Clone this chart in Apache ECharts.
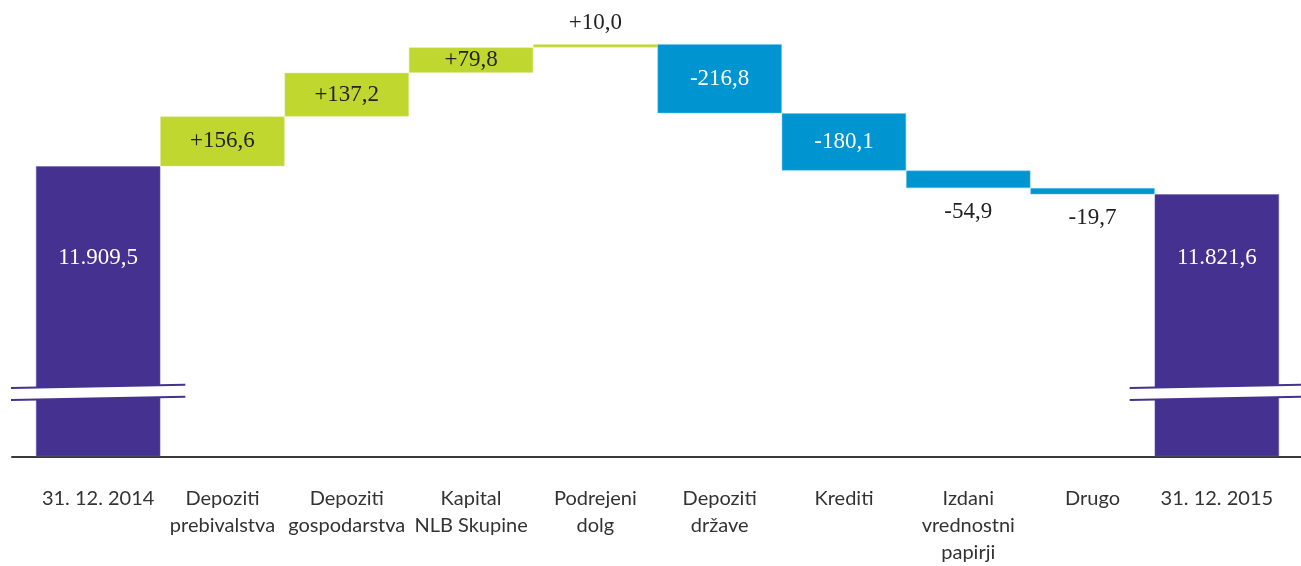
<!DOCTYPE html>
<html>
<head>
<meta charset="utf-8">
<script src="https://cdn.jsdelivr.net/npm/echarts@6/dist/echarts.min.js"></script>
<style>
html, body { margin: 0; padding: 0; background: #fff; }
#chart { width: 1301px; height: 566px; }
</style>
</head>
<body>
<div id="chart"></div>
<script>
// kategorije (x os)
const categories = ['31. 12. 2014', 'Depoziti\nprebivalstva', 'Depoziti\ngospodarstva', 'Kapital\nNLB Skupine',
	'Podrejeni\ndolg', 'Depoziti\ndržave', 'Krediti', 'Izdani\nvrednostni\npapirji', 'Drugo', '31. 12. 2015']
// začetno in končno stanje
const startTotal = 11909.5
const endTotal = 11821.6
// spremembe med njima
const changes = [156.6, 137.2, 79.8, 10.0, -216.8, -180.1, -54.9, -19.7]
// prelom osi (vrednost kjer je narisan prelom)
const breakValue = 11200

const PURPLE = '#45318f', GREEN = '#c0d72f', BLUE = '#0094d0'

function fmt(v, sign){
	let s = Math.abs(v).toFixed(1).split('.')
	let int = s[0].replace(/\B(?=(\d{3})+(?!\d))/g, '.')
	let txt = int + ',' + s[1]
	if( sign ) txt = (v >= 0 ? '+' : '-') + txt
	return txt
}

// sestavi podatke za slap
let base = ['-'], totals = [], ups = ['-'], downs = ['-']
totals.push({ value: startTotal, label: { distance: 80 } })
let run = startTotal
for (let i = 0; i < changes.length; i++) {
	let c = changes[i]
	totals.push('-')
	if( c >= 0 ){
		base.push(run)
		let pos = c < 30 ? 'top' : 'inside'
		ups.push({ value: c, label: { position: pos, distance: 10 } })
		downs.push('-')
	}else{
		base.push(run + c)
		let small = Math.abs(c) < 100
		downs.push({ value: -c, label: small ? { position: 'bottom', distance: 12, color: '#222' } : { position: 'inside' } })
		ups.push('-')
	}
	run += c
}
base.push('-'); ups.push('-'); downs.push('-')
totals.push({ value: endTotal, label: { distance: 52 } })

const valFont = { fontFamily: 'Liberation Serif', fontSize: 23 }

let chart = echarts.init(document.getElementById('chart'))
let option = {
	animation: false,
	grid: [
		{ left: 36, right: 22, top: 42, bottom: 109 },
		{ left: 12, right: 0, top: 42, bottom: 109 }
	],
	xAxis: [
		{
			type: 'category',
			data: categories,
			gridIndex: 0,
			axisLine: { show: false },
			axisTick: { show: false },
			axisLabel: {
				interval: 0,
				margin: 29,
				color: '#333',
				fontFamily: 'Lato',
				fontSize: 20,
				lineHeight: 27,
				verticalAlign: 'top'
			}
		},
		{
			type: 'value',
			gridIndex: 1,
			min: 0, max: 1,
			axisLine: { show: true, lineStyle: { color: '#3a3a3a', width: 2 } },
			axisTick: { show: false },
			axisLabel: { show: false },
			splitLine: { show: false }
		}
	],
	yAxis: [
		{ type: 'value', gridIndex: 0, min: 11000, max: 12300, show: false, splitLine: { show: false } },
		{ type: 'value', gridIndex: 1, show: false, splitLine: { show: false } }
	],
	series: [
		{
			type: 'bar', stack: 'w', data: base,
			barCategoryGap: '0%',
			itemStyle: { color: 'transparent' },
			silent: true
		},
		{
			type: 'bar', stack: 'w', data: totals,
			itemStyle: { color: PURPLE, borderColor: '#6a5bb0', borderWidth: 0.5 },
			label: Object.assign({ show: true, position: 'insideTop', color: '#fff', formatter: p => fmt(p.value, false) }, valFont)
		},
		{
			type: 'bar', stack: 'w', data: ups,
			itemStyle: { color: GREEN, borderColor: '#dbe98a', borderWidth: 0.5 },
			label: Object.assign({ show: true, color: '#222', formatter: p => fmt(p.value, true) }, valFont)
		},
		{
			type: 'bar', stack: 'w', data: downs,
			itemStyle: { color: BLUE, borderColor: '#6cc4ea', borderWidth: 0.5 },
			label: Object.assign({ show: true, color: '#fff', formatter: p => fmt(-p.value, true) }, valFont)
		},
		{
			// prelom osi na stolpcih stanja
			type: 'custom',
			clip: false,
			z: 10,
			silent: true,
			data: [[0, breakValue], [categories.length - 1, breakValue]],
			renderItem: function (params, api) {
				let c = api.coord([api.value(0), api.value(1)])
				let half = api.size([1, 0])[0] / 2 + 25
				let x1 = c[0] - half, x2 = c[0] + half
				let g = 6, s = 1.6
				return {
					type: 'group',
					children: [
						{ type: 'polygon', shape: { points: [[x1, c[1] - g + s], [x2, c[1] - g - s], [x2, c[1] + g - s], [x1, c[1] + g + s]] }, style: { fill: '#fff' } },
						{ type: 'line', shape: { x1: x1, y1: c[1] - g + s, x2: x2, y2: c[1] - g - s }, style: { stroke: PURPLE, lineWidth: 2 } },
						{ type: 'line', shape: { x1: x1, y1: c[1] + g + s, x2: x2, y2: c[1] + g - s }, style: { stroke: PURPLE, lineWidth: 2 } }
					]
				}
			}
		}
	]
}
option && chart.setOption(option)
</script>
</body>
</html>
